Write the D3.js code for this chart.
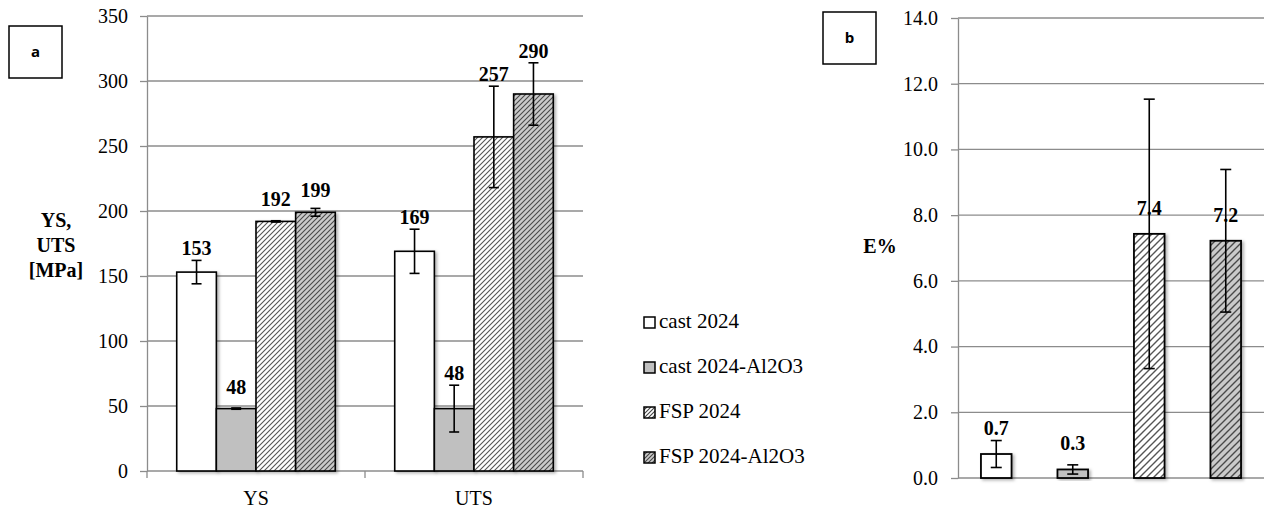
<!DOCTYPE html>
<html>
<head>
<meta charset="utf-8">
<script src="https://cdn.jsdelivr.net/npm/d3@7"></script>
<style>
  html, body { margin: 0; padding: 0; background: #fff; }
  svg { display: block; }
</style>
</head>
<body>
<svg id="chart" width="1267" height="514"></svg>
<script>
// ---------- data ----------
const seriesNames = ["cast 2024", "cast 2024-Al2O3", "FSP 2024", "FSP 2024-Al2O3"];
const categoriesA = ["YS", "UTS"];
const ysValues  = [153, 48, 192, 199];
const ysErrors  = [9, 0.5, 0.5, 3];
const utsValues = [169, 48, 257, 290];
const utsErrors = [17, 18, 39, 24];
const ticksA = [0, 50, 100, 150, 200, 250, 300, 350];

const elongValues = [0.73, 0.26, 7.43, 7.22];
const elongErrors = [0.41, 0.14, 4.1, 2.17];
const ticksB = [0, 2, 4, 6, 8, 10, 12, 14];

const SERIF = '"Liberation Serif", "Times New Roman", Times, "DejaVu Serif", serif';
const SANS = '"Open Sans", "Liberation Sans", Arial, sans-serif';

// ---------- setup ----------
const svg = d3.select("#chart");
const defs = svg.append("defs");

function hatch(id, bg, line, size, sw) {
  const p = defs.append("pattern").attr("id", id)
    .attr("patternUnits", "userSpaceOnUse")
    .attr("width", size).attr("height", size);
  p.append("rect").attr("width", size).attr("height", size).attr("fill", bg);
  p.append("path")
    .attr("d", `M0,${size} L${size},0 M${-size/2},${size/2} L${size/2},${-size/2} M${size/2},${size*1.5} L${size*1.5},${size/2}`)
    .attr("stroke", line).attr("stroke-width", sw);
}
hatch("hA1", "#ffffff", "#555", 5, 1.1);
hatch("hA2", "#cacaca", "#4a4a4a", 5, 1.1);
hatch("hB1", "#ffffff", "#555", 7, 1.4);
hatch("hB2", "#cacaca", "#4a4a4a", 7, 1.4);
hatch("hL1", "#ffffff", "#444", 4, 1.1);
hatch("hL2", "#cacaca", "#444", 4, 1.1);

const sh = defs.append("filter").attr("id", "shadow")
  .attr("x", "-20%").attr("y", "-20%").attr("width", "150%").attr("height", "150%");
sh.append("feDropShadow").attr("dx", 2).attr("dy", 1.5).attr("stdDeviation", 1.5)
  .attr("flood-color", "#000").attr("flood-opacity", 0.3);

const fillsA = ["#ffffff", "#c0c0c0", "url(#hA1)", "url(#hA2)"];
const fillsB = ["#ffffff", "#c0c0c0", "url(#hB1)", "url(#hB2)"];
const fillsL = ["#ffffff", "#c0c0c0", "url(#hL1)", "url(#hL2)"];
const gridColor = "#8c8c8c";

function styleAxis(g) {
  g.attr("font-family", SERIF).attr("font-size", 20);
  g.selectAll("path.domain").attr("stroke", gridColor).attr("stroke-width", 1.3);
  g.selectAll(".tick line").attr("stroke", gridColor).attr("stroke-width", 1.3);
  g.selectAll(".tick text").attr("font-family", SERIF).attr("font-size", 20).attr("fill", "#000");
}

// ---------- chart a ----------
{
  const left = 147, right = 583, top = 16, bottom = 471;
  const y = d3.scaleLinear().domain([0, 350]).range([bottom, top]);
  const x0 = d3.scaleBand().domain(categoriesA).range([left, right]).paddingInner(0).paddingOuter(0);
  // gap width 150%: bar = band / 5.5
  const barW = x0.bandwidth() / 5.5;
  const barX = (cat, i) => x0(cat) + x0.bandwidth() / 2 - 2 * barW + i * barW;

  const g = svg.append("g");
  g.selectAll("line.grid").data(ticksA.slice(1)).join("line")
    .attr("x1", left).attr("x2", right)
    .attr("y1", d => y(d)).attr("y2", d => y(d))
    .attr("stroke", gridColor).attr("stroke-width", 1.3);

  const yAxis = g.append("g").attr("transform", `translate(${left},0)`)
    .call(d3.axisLeft(y).tickValues(ticksA).tickFormat(d3.format("d")).tickSize(7).tickSizeOuter(0).tickPadding(12));
  styleAxis(yAxis);

  const xAxisG = g.append("g").attr("transform", `translate(0,${bottom})`);
  xAxisG.append("line").attr("x1", left).attr("x2", right).attr("stroke", gridColor).attr("stroke-width", 1.3);
  xAxisG.selectAll("line.tk").data([left, x0("UTS"), right]).join("line")
    .attr("x1", d => d).attr("x2", d => d).attr("y1", 0).attr("y2", 7)
    .attr("stroke", gridColor).attr("stroke-width", 1.3);
  xAxisG.selectAll("text.cat").data(categoriesA).join("text")
    .attr("x", d => x0(d) + x0.bandwidth() / 2).attr("y", 34)
    .attr("text-anchor", "middle").attr("font-family", SERIF).attr("font-size", 20).text(d => d);

  const rows = [
    { cat: "YS", vals: ysValues, errs: ysErrors },
    { cat: "UTS", vals: utsValues, errs: utsErrors }
  ];
  const items = [];
  rows.forEach(r => r.vals.forEach((v, i) => items.push({ cat: r.cat, i, v, e: r.errs[i] })));

  g.selectAll("rect.bar").data(items).join("rect")
    .attr("x", d => barX(d.cat, d.i)).attr("width", barW)
    .attr("y", d => y(d.v)).attr("height", d => y(0) - y(d.v))
    .attr("fill", d => fillsA[d.i]).attr("stroke", "#000").attr("stroke-width", 1.6)
    .attr("filter", "url(#shadow)");

  const cx = d => barX(d.cat, d.i) + barW / 2;
  const eb = g.selectAll("g.err").data(items).join("g").attr("stroke", "#000").attr("stroke-width", 1.6);
  eb.append("line").attr("x1", cx).attr("x2", cx).attr("y1", d => y(d.v - d.e)).attr("y2", d => y(d.v + d.e));
  eb.append("line").attr("x1", d => cx(d) - 5).attr("x2", d => cx(d) + 5).attr("y1", d => y(d.v + d.e)).attr("y2", d => y(d.v + d.e));
  eb.append("line").attr("x1", d => cx(d) - 5).attr("x2", d => cx(d) + 5).attr("y1", d => y(d.v - d.e)).attr("y2", d => y(d.v - d.e));

  g.selectAll("text.lbl").data(items).join("text")
    .attr("x", cx)
    .attr("y", d => Math.min(y(d.v) - 15, y(d.v + d.e) - 5))
    .attr("text-anchor", "middle").attr("font-family", SERIF).attr("font-size", 20).attr("font-weight", "bold")
    .text(d => d3.format("d")(d.v));

  const t = g.append("text").attr("text-anchor", "middle").attr("font-family", SERIF)
    .attr("font-size", 20).attr("font-weight", "bold");
  [["YS,", 227], ["UTS", 252], ["[MPa]", 277]].forEach(([s, yy]) =>
    t.append("tspan").attr("x", 56).attr("y", yy).text(s));

  g.append("rect").attr("x", 9).attr("y", 26).attr("width", 53).attr("height", 52)
    .attr("fill", "#fff").attr("stroke", "#000").attr("stroke-width", 1.5);
  g.append("text").attr("x", 35.5).attr("y", 57).attr("text-anchor", "middle")
    .attr("font-family", SANS).attr("font-size", 15).attr("font-weight", "bold").text("a");
}

// ---------- legend ----------
{
  const lg = svg.append("g");
  const ly = d3.scalePoint().domain(seriesNames).range([328, 463]);
  const it = lg.selectAll("g").data(seriesNames).join("g")
    .attr("transform", d => `translate(644,${ly(d)})`);
  it.append("rect").attr("x", 0).attr("y", -11).attr("width", 11).attr("height", 11)
    .attr("fill", (d, i) => fillsL[i]).attr("stroke", "#000").attr("stroke-width", 1.5);
  it.append("text").attr("x", 15).attr("y", 0).attr("font-family", SERIF).attr("font-size", 21).text(d => d);
}

// ---------- chart b ----------
{
  const left = 958, right = 1264, top = 18, bottom = 478;
  const y = d3.scaleLinear().domain([0, 14]).range([bottom, top]);
  const x = d3.scaleBand().domain(seriesNames).range([left, right]).paddingInner(0.6).paddingOuter(0.3);
  const g = svg.append("g");

  g.selectAll("line.grid").data(ticksB.slice(1)).join("line")
    .attr("x1", left).attr("x2", right)
    .attr("y1", d => y(d)).attr("y2", d => y(d))
    .attr("stroke", gridColor).attr("stroke-width", 1.3);

  const yAxis = g.append("g").attr("transform", `translate(${left},0)`)
    .call(d3.axisLeft(y).tickValues(ticksB).tickFormat(d3.format(".1f")).tickSize(7).tickSizeOuter(0).tickPadding(13));
  styleAxis(yAxis);
  g.append("line").attr("x1", left).attr("x2", right).attr("y1", bottom).attr("y2", bottom)
    .attr("stroke", gridColor).attr("stroke-width", 1.3);

  const items = seriesNames.map((s, i) => ({ s, i, v: elongValues[i], e: elongErrors[i] }));
  g.selectAll("rect.bar").data(items).join("rect")
    .attr("x", d => x(d.s)).attr("width", x.bandwidth())
    .attr("y", d => y(d.v)).attr("height", d => y(0) - y(d.v))
    .attr("fill", d => fillsB[d.i]).attr("stroke", "#000").attr("stroke-width", 1.8)
    .attr("filter", "url(#shadow)");

  g.selectAll("text.lbl").data(items).join("text")
    .attr("x", d => x(d.s) + x.bandwidth() / 2)
    .attr("y", d => y(d.v) - 19)
    .attr("text-anchor", "middle").attr("font-family", SERIF).attr("font-size", 20).attr("font-weight", "bold")
    .text(d => d3.format(".1f")(d.v));

  const cx = d => x(d.s) + x.bandwidth() / 2;
  const eb = g.selectAll("g.err").data(items).join("g").attr("stroke", "#000").attr("stroke-width", 1.6);
  eb.append("line").attr("x1", cx).attr("x2", cx).attr("y1", d => y(d.v - d.e)).attr("y2", d => y(d.v + d.e));
  eb.append("line").attr("x1", d => cx(d) - 5.5).attr("x2", d => cx(d) + 5.5).attr("y1", d => y(d.v + d.e)).attr("y2", d => y(d.v + d.e));
  eb.append("line").attr("x1", d => cx(d) - 5.5).attr("x2", d => cx(d) + 5.5).attr("y1", d => y(d.v - d.e)).attr("y2", d => y(d.v - d.e));

  g.append("text").attr("x", 880).attr("y", 253).attr("text-anchor", "middle")
    .attr("font-family", SERIF).attr("font-size", 20).attr("font-weight", "bold").text("E%");

  g.append("rect").attr("x", 823).attr("y", 12).attr("width", 53).attr("height", 52)
    .attr("fill", "#fff").attr("stroke", "#000").attr("stroke-width", 1.5);
  g.append("text").attr("x", 849.5).attr("y", 43).attr("text-anchor", "middle")
    .attr("font-family", SANS).attr("font-size", 15).attr("font-weight", "bold").text("b");
}
</script>
</body>
</html>
